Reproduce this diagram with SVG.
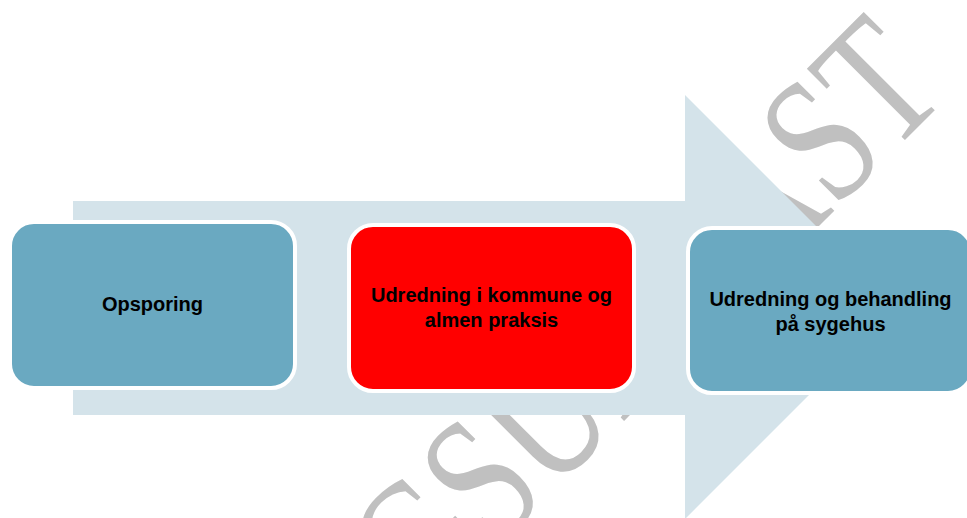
<svg xmlns="http://www.w3.org/2000/svg" width="967" height="518" viewBox="0 0 967 518">
<style>
.wm{font-family:"Liberation Serif","Times New Roman",serif;font-size:183px;fill:#c0c0c0}
.box{stroke:#ffffff;stroke-width:4}
.blue{fill:#6aa9c1}
.red{fill:#ff0000}
.lbl{font-family:"Liberation Sans",Arial,sans-serif;font-size:20px;font-weight:bold;fill:#000000;text-anchor:middle}
</style>
<rect width="967" height="518" fill="#ffffff"/>
<g id="watermark">
<text class="wm" text-anchor="end" transform="translate(950,95) rotate(-45) scale(0.762,1)">HØRINGSUDKAST</text>
</g>
<g id="connectors">
<polygon points="73,201 685,201 685,95 897,307 685,519 685,415 73,415" fill="#d4e3ea"/>
</g>
<g id="node-opsporing">
<rect class="box blue" x="10" y="222" width="285" height="166" rx="24"/>
<text class="lbl" x="152.5" y="311">Opsporing</text>
</g>
<g id="node-kommune">
<rect class="box red" x="349" y="225" width="285" height="166" rx="24"/>
<text class="lbl" x="491.5" y="302">Udredning i kommune og</text>
<text class="lbl" x="491.5" y="327">almen praksis</text>
</g>
<g id="node-sygehus">
<rect class="box blue" x="688" y="228" width="284" height="165" rx="24"/>
<text class="lbl" x="830.5" y="306">Udredning og behandling</text>
<text class="lbl" x="830.5" y="331">på sygehus</text>
</g>
</svg>
